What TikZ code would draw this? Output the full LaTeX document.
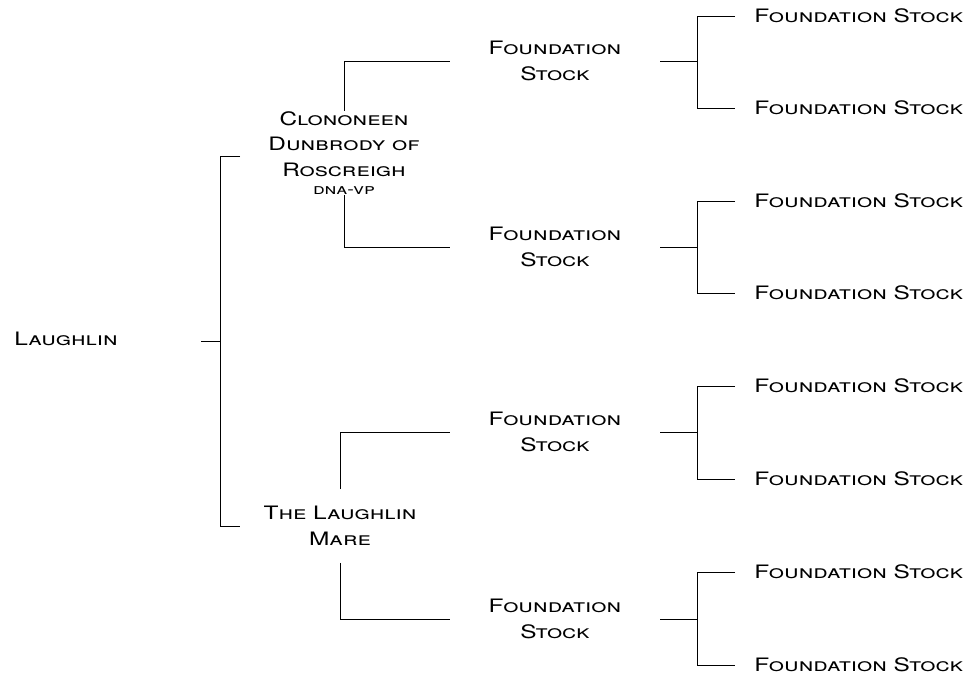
\documentclass[tikz,border=0pt]{standalone}
\usepackage{fontspec}
\setmainfont{TeX Gyre Heros}[FakeStretch=1.32]

\begin{document}
\begin{tikzpicture}[x=1pt,y=-1pt,line width=0.7pt,
  every node/.style={font=\scshape\fontsize{18.5}{25.5}\selectfont,align=center,inner sep=0pt},
  found/.style={minimum width=210pt},
  leaf/.style={anchor=west}]
  \useasboundingbox (0,0) rectangle (967,676);
  \node (laughlin) at (66,339) {Laughlin};
  \node (clon) at (344,153) {Clononeen\\Dunbrody of\\Roscreigh\\[-7pt]{\fontsize{15}{16}\selectfont dna-vp}};
  \node (mare) at (340,526) {The Laughlin\\Mare};
  \node (f1) at (555,61) [found] {Foundation\\Stock};
  \node (f2) at (555,247) [found] {Foundation\\Stock};
  \node (f3) at (555,432) [found] {Foundation\\Stock};
  \node (f4) at (555,619) [found] {Foundation\\Stock};
  \foreach \n/\y in {1/16,2/108,3/201,4/293,5/386,6/479,7/572,8/665}
    \node (l\n) at (754,\y) [leaf] {Foundation Stock};
  \coordinate (rin) at (201,341);
  \coordinate (rj) at (220,341);
  \coordinate (rt) at (240,156);
  \coordinate (rb) at (240,526);
  \draw (rin) to (rj);
  \draw (rt) -- (rt -| rj) -- (rb -| rj) -- (rb);
  \draw (clon.north) |- (f1.west);
  \draw (clon.south) |- (f2.west);
  \draw ([yshift=17pt]mare.north) |- (f3.west);
  \draw ([yshift=-17pt]mare.south) |- (f4.west);
  \foreach \i/\a/\b in {1/1/2,2/3/4,3/5/6,4/7/8} {
    \draw (f\i.east) -- ++(37,0) coordinate (j\i);
    \draw ([xshift=-19pt]l\a.west) -| (j\i) |- ([xshift=-19pt]l\b.west);
  }
\end{tikzpicture}
\end{document}
